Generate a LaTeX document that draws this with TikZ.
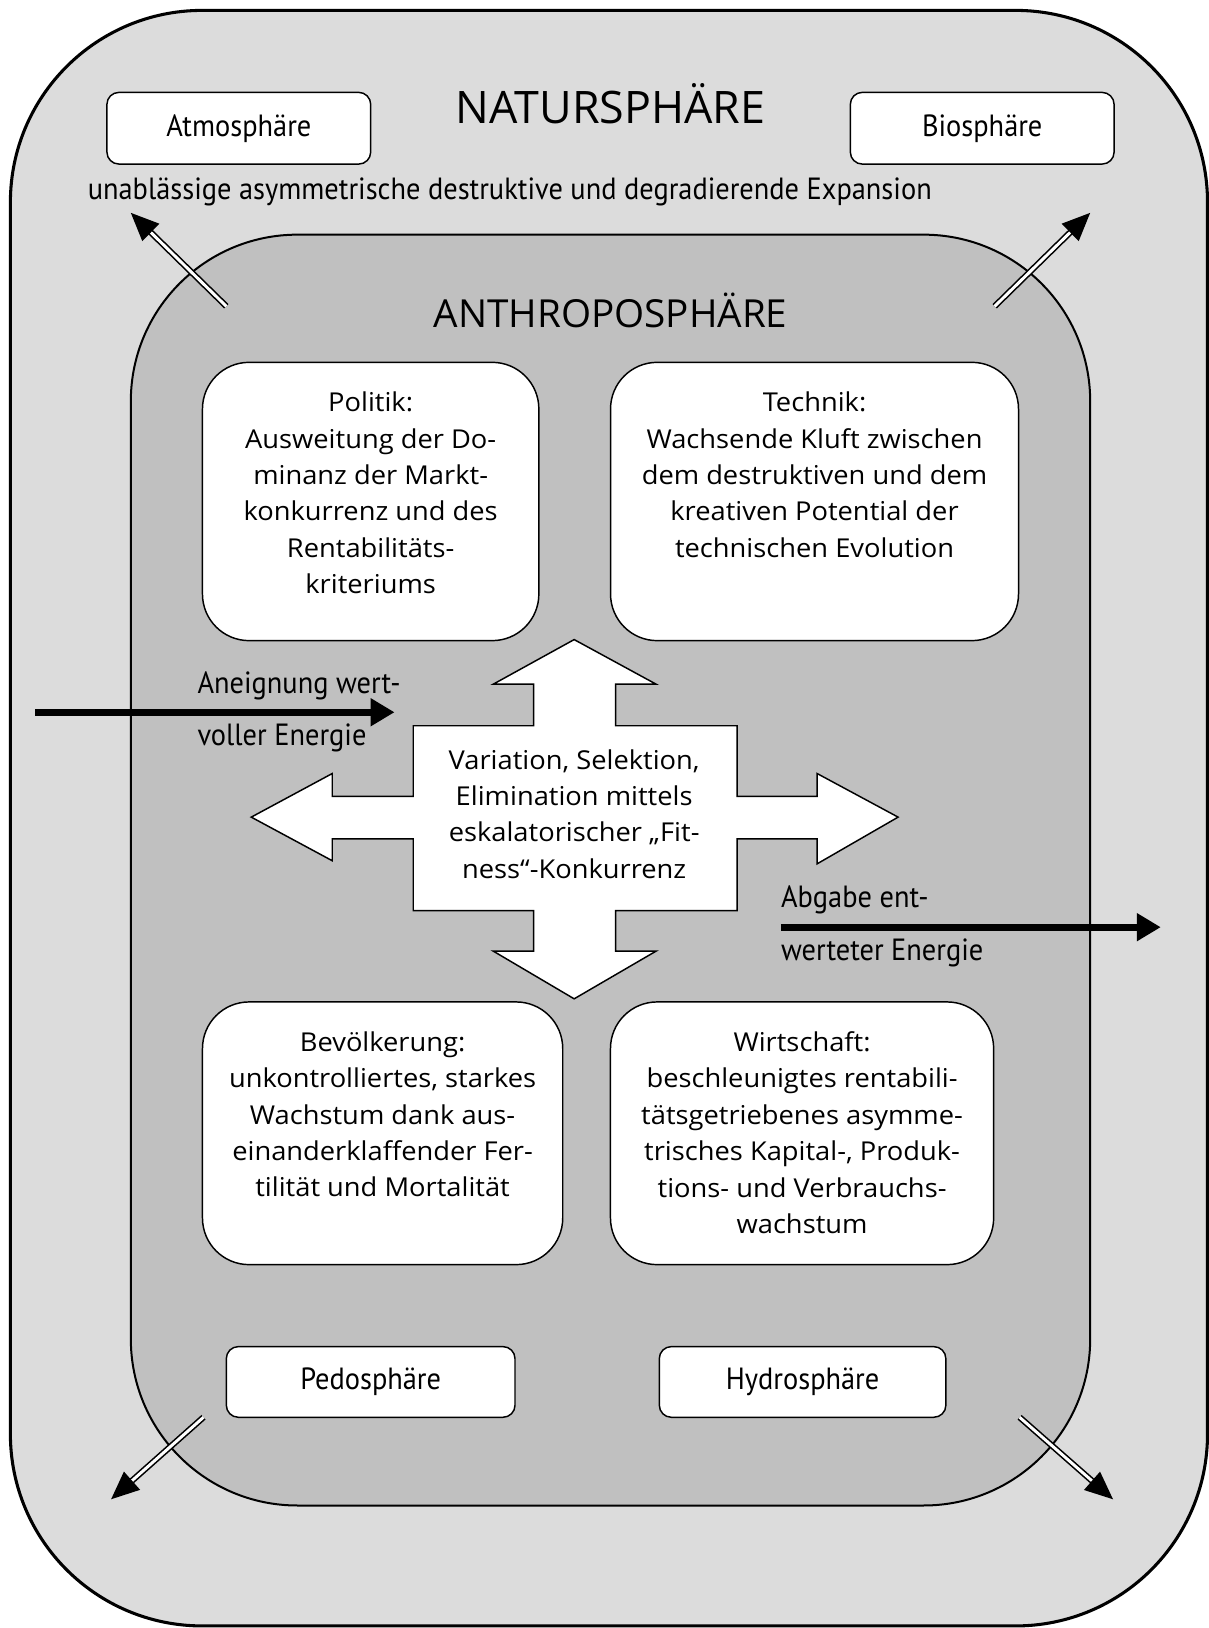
\documentclass[tikz,border=0pt]{standalone}
\usepackage{fontspec}
\setmainfont[FakeStretch=1.05]{Open Sans}
\newfontfamily\titlefont{Open Sans}
\newfontfamily\condfont[FakeStretch=0.926]{PT Sans}
\usetikzlibrary{arrows.meta,calc}
\definecolor{natgray}{gray}{0.863}
\definecolor{anthgray}{gray}{0.753}
\tikzset{
  natur/.style={draw, line width=2.3pt, fill=natgray, rounded corners=144pt},
  anthro/.style={draw, line width=1.5pt, fill=anthgray, rounded corners=125pt},
  bigbox/.style={draw, fill=white, rounded corners=35pt, line width=1.1pt, inner sep=0pt},
  smallbox/.style={draw, fill=white, rounded corners=9pt, line width=1.1pt, inner sep=0pt,
    font=\condfont\fontsize{23}{26}\selectfont},
  boxtext/.style={font=\fontsize{19.5}{27.3}\selectfont, align=center, inner sep=0pt, anchor=north},
  lbl/.style={font=\condfont\fontsize{23}{26}\selectfont, inner sep=0pt},
  energy/.style={line width=5pt, -{Triangle[length=18pt,width=20pt]}},
  dblarrow/.style={double, double distance=2.2pt, line width=1.2pt, -{Triangle[length=21pt,width=18pt]}},
  crossarrow/.style={draw, fill=white, line width=1.1pt, line join=miter}
}
\begin{document}
\begin{tikzpicture}[x=0.779pt,y=-0.779pt]
\useasboundingbox (0,0) rectangle (1164,1568);
% spheres
\draw[natur] (10,10) rectangle (1163,1566);
\node[font=\titlefont\fontsize{33.6}{38}\selectfont, inner sep=0pt] (nattitle) at (588,100) {NATURSPHÄRE};
\node[smallbox, minimum width=197.9pt, minimum height=53.8pt] (atmo) at (230,123.5) {\raisebox{2pt}{Atmosphäre}};
\node[smallbox, minimum width=197.9pt, minimum height=53.8pt] (bio) at (946,123.5) {\raisebox{2pt}{Biosphäre}};
\node[lbl] (expansion) at (491,185) {unablässige asymmetrische destruktive und degradierende Expansion};
\draw[anthro] (126,226) rectangle (1050,1450);
\node[font=\titlefont\fontsize{29}{34}\selectfont, inner sep=0pt] (anthtitle) at (588,299) {ANTHROPOSPHÄRE};
% corner arrows
\coordinate (tlA) at (218,295); \coordinate (tlB) at (126,205);
\coordinate (trA) at (958,295); \coordinate (trB) at (1050,205);
\coordinate (blA) at (196,1365); \coordinate (blB) at (107,1444);
\coordinate (brA) at (982,1365); \coordinate (brB) at (1072,1444);
\draw[dblarrow] (tlA) -- (tlB);
\draw[dblarrow] (trA) -- (trB);
\draw[dblarrow] (blA) -- (blB);
\draw[dblarrow] (brA) -- (brB);
% big boxes
\node[bigbox, minimum width=252.4pt, minimum height=208.8pt] (pol) at (357,483) {};
\node[boxtext] (poltext) at ($(pol.north)+(0,29)$) {Politik:\\Ausweitung der Do-\\minanz der Markt-\\konkurrenz und des\\Rentabilitäts-\\kriteriums};
\node[bigbox, minimum width=306.1pt, minimum height=208.8pt] (tech) at (784.5,483) {};
\node[boxtext] (techtext) at ($(tech.north)+(0,29)$) {Technik:\\Wachsende Kluft zwischen\\dem destruktiven und dem\\kreativen Potential der\\technischen Evolution};
\node[bigbox, minimum width=270.3pt, minimum height=197.1pt] (bev) at (368.5,1091.5) {};
\node[boxtext] (bevtext) at ($(bev.north)+(0,29)$) {Bevölkerung:\\unkontrolliertes, starkes\\Wachstum dank aus-\\einanderklaffender Fer-\\tilität und Mortalität};
\node[bigbox, minimum width=287.5pt, minimum height=197.1pt] (wirt) at (772.5,1091.5) {};
\node[boxtext] (wirttext) at ($(wirt.north)+(0,29)$) {Wirtschaft:\\beschleunigtes rentabili-\\tätsgetriebenes asymme-\\trisches Kapital-, Produk-\\tions- und Verbrauchs-\\wachstum};
% cross arrow
\draw[crossarrow] (553,616) -- (632,659) -- (593,659) -- (593,699) -- (710,699) -- (710,767)
  -- (787,767) -- (787,745) -- (865,787) -- (787,832) -- (787,808) -- (710,808) -- (710,877)
  -- (593,877) -- (593,916) -- (632,916) -- (553,962) -- (475,916) -- (514,916) -- (514,877)
  -- (398,877) -- (398,808) -- (320,808) -- (320,829) -- (242,787) -- (320,745) -- (320,767)
  -- (398,767) -- (398,699) -- (514,699) -- (514,659) -- (475,659) -- cycle;
\node[boxtext, anchor=center] (centertext) at (553,784) {Variation, Selektion,\\Elimination mittels\\eskalatorischer „Fit-\\ness“-Konkurrenz};
% energy arrows
\coordinate (inA) at (34,686); \coordinate (inB) at (380,686);
\draw[energy] (inA) -- (inB);
\node[lbl, anchor=west] (in1) at (190,661) {Aneignung wert-};
\node[lbl, anchor=west] (in2) at (190,711) {voller Energie};
\coordinate (outA) at (752,893); \coordinate (outB) at (1118,893);
\draw[energy] (outA) -- (outB);
\node[lbl, anchor=west] (out1) at (752,867) {Abgabe ent-};
\node[lbl, anchor=west] (out2) at (752,918) {werteter Energie};
% small lower boxes
\node[smallbox, minimum width=216.6pt, minimum height=53pt] (pedo) at (357,1331) {\raisebox{2pt}{Pedosphäre}};
\node[smallbox, minimum width=215pt, minimum height=53pt] (hydro) at (773,1331) {\raisebox{2pt}{Hydrosphäre}};
\end{tikzpicture}
\end{document}
